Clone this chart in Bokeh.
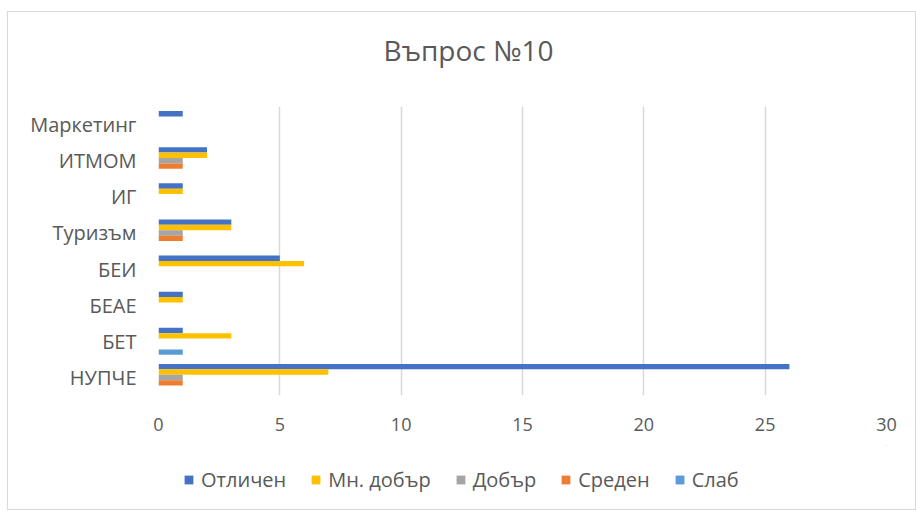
from bokeh.plotting import figure
from bokeh.layouts import column
from bokeh.models import ColumnDataSource, Range1d, FactorRange, Legend, LegendItem, FixedTicker, Label
from bokeh.transform import dodge
from bokeh.embed import file_html
from bokeh.resources import INLINE

categories = ["НУПЧЕ", "БЕТ", "БЕАЕ", "БЕИ", "Туризъм", "ИГ", "ИТМОМ", "Маркетинг"]
series_names = ["Отличен", "Мн. добър", "Добър", "Среден", "Слаб"]
otlichen = [26, 1, 1, 5, 3, 1, 2, 1]
mn_dobar = [7, 3, 1, 6, 3, 1, 2, 0]
dobar = [1, 0, 0, 0, 1, 0, 1, 0]
sreden = [1, 0, 0, 0, 1, 0, 1, 0]
slab = [0, 1, 0, 0, 0, 0, 0, 0]
x_ticks = [0, 5, 10, 15, 20, 25, 30]
title_text = "Въпрос №10"

colors = ["#4472C4", "#FFC000", "#A5A5A5", "#ED7D31", "#5B9BD5"]
offsets = [0.3, 0.15, 0.0, -0.15, -0.3]
FONT = "Open Sans"
TXT = "#595959"


def blank(fig):
    fig.axis.visible = False
    fig.grid.visible = False
    fig.outline_line_color = None
    fig.background_fill_color = "white"
    fig.border_fill_color = "white"


# header strip with the title
p0 = figure(width=907, height=94, output_backend="svg", toolbar_location=None,
            x_range=Range1d(0, 1), y_range=Range1d(0, 1), min_border=0)
blank(p0)
p0.add_layout(Label(x=310, y=57, x_units="screen", y_units="screen", text=title_text,
                    text_font=FONT, text_font_size="28px", text_color=TXT,
                    text_align="center", text_baseline="middle"))

# main chart
source = ColumnDataSource(dict(cat=categories, s0=otlichen, s1=mn_dobar, s2=dobar, s3=sreden, s4=slab))
p = figure(frame_width=728, frame_height=289, output_backend="svg", toolbar_location=None,
           y_range=FactorRange(factors=categories), x_range=Range1d(0, 30), title=None,
           min_border_left=150, min_border_right=29, min_border_top=0, min_border_bottom=50)
p.outline_line_color = None
p.background_fill_color = "white"
p.border_fill_color = "white"

for i, name in enumerate(series_names):
    p.hbar(y=dodge("cat", offsets[i], range=p.y_range), right="s%d" % i, left=0,
           height=0.15, source=source, fill_color=colors[i], line_color=None)

p.xaxis.ticker = FixedTicker(ticks=x_ticks)
p.xgrid.grid_line_color = "#d9d9d9"
p.xgrid.grid_line_width = 1.5
p.ygrid.grid_line_color = None
for ax in (p.xaxis[0], p.yaxis[0]):
    ax.axis_line_color = None
    ax.major_tick_line_color = None
    ax.minor_tick_line_color = None
    ax.major_label_text_font = FONT
    ax.major_label_text_color = TXT
p.xaxis.major_label_text_font_size = "18px"
p.yaxis.major_label_text_font_size = "20px"
p.xaxis.major_label_standoff = 16
p.yaxis.major_label_standoff = 16

# legend strip below the chart (its proxy bars lie far outside the visible ranges)
p2 = figure(width=907, height=64, output_backend="svg", toolbar_location=None,
            x_range=Range1d(0, 1), y_range=Range1d(0, 1), min_border=0)
blank(p2)
items = []
for i, name in enumerate(series_names):
    d = p2.hbar(y=[50], right=[51], left=[50], height=0.1, fill_color=colors[i], line_color=None)
    items.append(LegendItem(label=name, renderers=[d]))

legend = Legend(items=items, orientation="horizontal", location=(25, 16),
                glyph_width=11, glyph_height=11, label_standoff=7, spacing=24,
                padding=0, margin=0, border_line_color=None, background_fill_alpha=0,
                label_text_font=FONT, label_text_font_size="20px", label_text_color=TXT)
p2.add_layout(legend)

layout = column(p0, p, p2, spacing=0)
layout.styles = {"border": "1px solid #d9d9d9", "margin-left": "7px", "margin-top": "11px",
                 "background-color": "white"}

open("out.html", "w").write(file_html(layout, INLINE))
